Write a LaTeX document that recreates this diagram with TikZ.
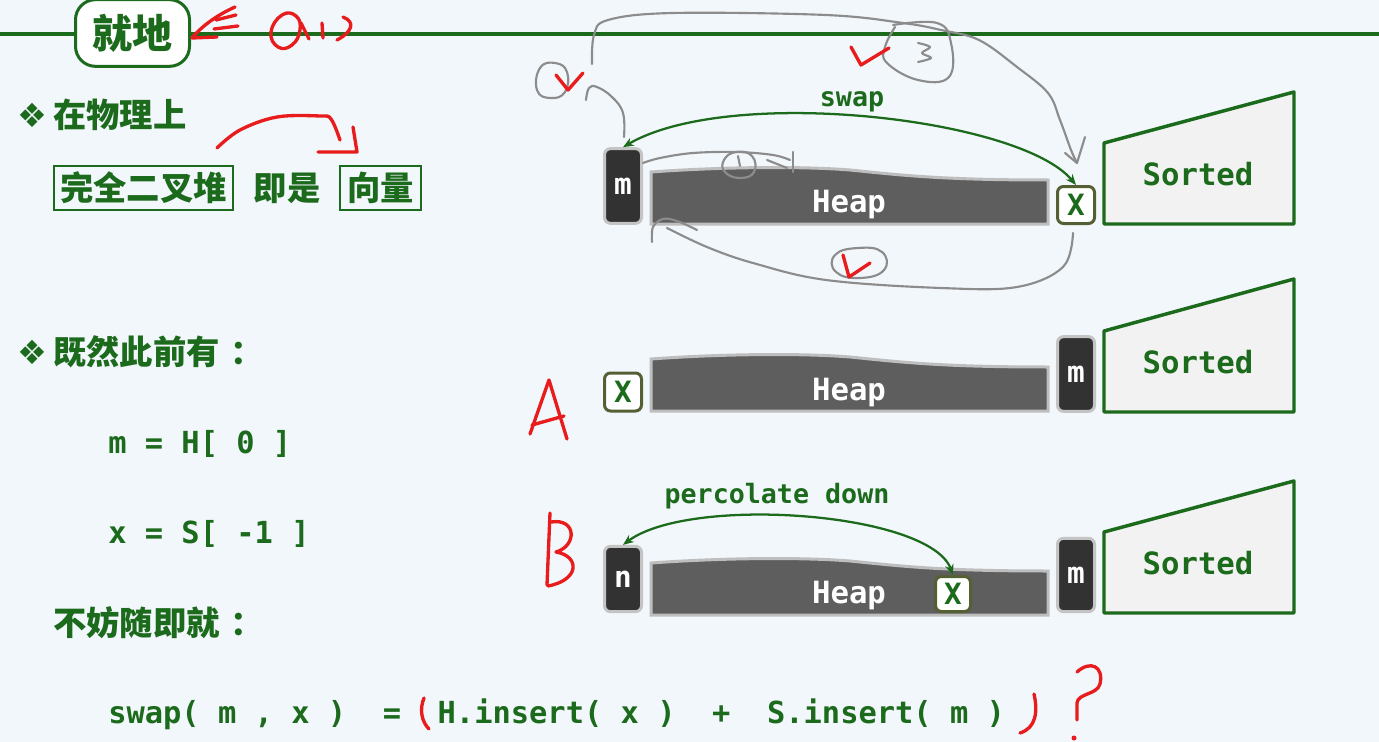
\documentclass[tikz,border=0pt]{standalone}
\usepackage{fontspec}
\setmonofont{DejaVu Sans Mono}
\newfontfamily\cjk{Noto Sans CJK SC}
\newfontfamily\dejavu{DejaVu Sans}
\usetikzlibrary{arrows.meta}

\definecolor{slidebg}{RGB}{242,247,251}
\definecolor{slidegreen}{RGB}{28,106,28}
\definecolor{celldark}{RGB}{50,50,50}
\definecolor{cellrim}{RGB}{196,196,196}
\definecolor{heapfill}{RGB}{94,94,94}
\definecolor{heaprim}{RGB}{190,190,190}
\definecolor{xrim}{RGB}{84,96,52}
\definecolor{sortfill}{RGB}{242,242,242}
\definecolor{inkred}{RGB}{232,28,28}
\definecolor{inkgray}{RGB}{140,140,140}

\tikzset{
  titlebox/.style={draw=slidegreen, fill=white, line width=2.25pt, rounded corners=15pt, inner sep=0pt, text=slidegreen, font=\cjk\bfseries\fontsize{30}{36}\selectfont},
  bullet/.style={text=slidegreen, inner sep=0pt, font=\dejavu\fontsize{25}{28}\selectfont},
  cjktext/.style={text=slidegreen, inner sep=0pt, font=\cjk\bfseries\fontsize{25}{30}\selectfont},
  cjkbox/.style={cjktext, draw=slidegreen, line width=1.6pt, minimum height=33pt},
  codeline/.style={text=slidegreen, inner sep=0pt, font=\ttfamily\bfseries\fontsize{22.8}{26}\selectfont},
  cell/.style={draw=cellrim, fill=celldark, line width=2.25pt, rounded corners=4.5pt, inner sep=0pt, minimum width=27.75pt, text=white, font=\ttfamily\bfseries\fontsize{22}{24}\selectfont},
  xcell/.style={cell, draw=xrim, fill=white, text=slidegreen},
  heapbody/.style={draw=heaprim, fill=heapfill, line width=2.25pt},
  heaplabel/.style={text=white, inner sep=0pt, font=\ttfamily\bfseries\fontsize{23}{26}\selectfont},
  sortedbody/.style={draw=slidegreen, fill=sortfill, line width=2.6pt, line join=round},
  sortedlabel/.style={text=slidegreen, inner sep=0pt, font=\ttfamily\bfseries\fontsize{23}{26}\selectfont},
  flow/.style={draw=slidegreen, line width=1.7pt, {Stealth[length=8pt,width=6.5pt]}-{Stealth[length=8pt,width=6.5pt]}},
  flowlabel/.style={text=slidegreen, inner sep=0pt, font=\ttfamily\bfseries\fontsize{20}{24}\selectfont},
  ink/.style={draw=inkred, line width=2.5pt, line cap=round, line join=round},
  pencil/.style={draw=inkgray, line width=1.6pt, line cap=round, line join=round}
}

\begin{document}
\begin{tikzpicture}[x=0.75pt,y=0.75pt,yscale=-1,xscale=1]
	\useasboundingbox (0,0) rectangle (1379,742);

	%Shape: Rectangle [background]
	\fill [slidebg] (0,0) rectangle (1379,742);
	%Straight Lines [title rule]
	\draw [slidegreen, line width=2.6pt] (0,34) -- (1379,34);

	% Text Node [title]
	\node [titlebox, minimum width=85.5pt, minimum height=50pt] (jiudi) at (132.5,33) {就地};

	% Text Node [left column]
	\node [bullet] (dot1) at (32,115) {❖};
	\node [cjktext, anchor=west] (phys) at (53,115) {在物理上};
	\node [cjkbox, minimum width=134pt] (cbt) at (143.5,188) {完全二叉堆};
	\node [cjktext] (isis) at (287,188) {即是};
	\node [cjkbox, minimum width=60.75pt] (vec) at (380.5,188) {向量};
	\node [bullet] (dot2) at (32,352) {❖};
	\node [cjktext, anchor=west] (since) at (53,352) {既然此前有\hspace{8pt}：};
	\node [codeline, anchor=base west] (mdef) at (108,453) {m = H[ 0 ]};
	\node [codeline, anchor=base west] (xdef) at (108,543) {x = S[ -1 ]};
	\node [cjktext, anchor=west] (thus) at (53,623) {不妨随即就\hspace{8pt}：};
	\node [codeline, anchor=base west] (swapeq) at (108,723) {swap( m , x )\ \ =\ \ H.insert( x )\ \ +\ \ S.insert( m )};

	%Shape: Heap [row 1]
	\draw [heapbody] (651,172) .. controls (720,167) and (800,166) .. (850,170) .. controls (900,175) and (940,180) .. (1048,180) -- (1048,224) -- (651,224) -- cycle;
	\node [heaplabel] (heap1) at (849,205) {Heap};
	\node [cell, minimum height=56pt] (m1) at (623,186) {m};
	\node [xcell, minimum height=27.75pt] (x1) at (1076,205) {X};
	\draw [sortedbody] (1104,143) -- (1294,92) -- (1294,224) -- (1104,224) -- cycle;
	\node [sortedlabel] (sorted1) at (1198,174) {Sorted};
	\draw [flow] (x1.north) .. controls (1020,118) and (730,85) .. (m1.north);
	\node [flowlabel, anchor=base] (swaptag) at (852,107) {swap};

	%Shape: Heap [row 2]
	\draw [heapbody] (651,359) .. controls (720,354) and (800,353) .. (850,357) .. controls (900,362) and (940,367) .. (1048,367) -- (1048,411) -- (651,411) -- cycle;
	\node [heaplabel] (heap2) at (849,393) {Heap};
	\node [xcell, minimum height=28.5pt] (x2) at (623,392) {X};
	\node [cell, minimum height=56pt] (m2) at (1076,374) {m};
	\draw [sortedbody] (1104,331) -- (1294,279) -- (1294,412) -- (1104,412) -- cycle;
	\node [sortedlabel] (sorted2) at (1198,362) {Sorted};

	%Shape: Heap [row 3]
	\draw [heapbody] (651,563) .. controls (720,558) and (800,557) .. (850,561) .. controls (900,566) and (940,571) .. (1048,571) -- (1048,615) -- (651,615) -- cycle;
	\node [heaplabel] (heap3) at (849,596) {Heap};
	\node [cell, minimum height=49pt] (n3) at (623,579) {n};
	\node [xcell, minimum height=26.25pt, minimum width=26.25pt] (x3) at (953,594) {X};
	\node [cell, minimum height=55pt] (m3) at (1076,575) {m};
	\draw [sortedbody] (1104,532) -- (1294,481) -- (1294,613) -- (1104,613) -- cycle;
	\node [sortedlabel] (sorted3) at (1198,563) {Sorted};
	\draw [flow] (x3.north) .. controls (930,512) and (690,495) .. (n3.north);
	\node [flowlabel, anchor=base] (perctag) at (777,503) {percolate down};

	%Curve Lines [pencil notes]
	\draw [pencil] plot [smooth, tension=0.6] coordinates {(592,64) (594,35) (608,20) (673,13) (826,15) (903,23) (941,30) (979,40) (1017,67) (1048,93) (1060,120) (1071,150) (1077,163)};
	\draw [pencil] (1065,153) -- (1077,163) -- (1085,137);
	\draw [pencil] plot [smooth, tension=0.7] coordinates {(624,137) (623,113) (612,97) (597,87) (589,88) (586,100)};
	\draw [pencil] plot [smooth cycle, tension=0.8] coordinates {(540,68) (555,63) (567,72) (565,92) (550,98) (537,90)};
	\draw [pencil] plot [smooth, tension=0.7] coordinates {(893,25) (937,23) (951,43) (949,77) (918,80) (887,63) (885,47) (895,27)};
	\draw [pencil] plot [smooth, tension=0.6] coordinates {(918,43) (930,47) (922,53) (931,58) (918,62)};
	\draw [pencil] plot [smooth, tension=0.6] coordinates {(643,163) (660,158) (693,153) (737,152) (773,155) (790,160)};
	\draw [pencil] (767,160) -- (787,168);
	\draw [pencil] (793,152) -- (793,172);
	\draw [pencil] plot [smooth cycle, tension=0.8] coordinates {(724,160) (736,152) (752,156) (754,172) (740,178) (725,172)};
	\draw [pencil] (738,156) -- (740,166);
	\draw [pencil] plot [smooth, tension=0.6] coordinates {(652,242) (653,227) (663,219) (677,221) (697,230)};
	\draw [pencil] plot [smooth, tension=0.6] coordinates {(667,228) (707,247) (753,263) (826,280) (941,288) (1017,287) (1063,267) (1073,233)};
	\draw [pencil] plot [smooth cycle, tension=0.8] coordinates {(835,255) (858,248) (882,252) (884,270) (860,278) (836,272)};

	%Curve Lines [red ink]
	\draw [ink] (235,7) .. controls (215,16) and (200,28) .. (192,38) -- (217,37);
	\draw [ink] (216,20) -- (236,15);
	\draw [ink] (214,29) -- (238,26);
	\draw [ink] plot [smooth cycle, tension=0.8] coordinates {(282,15) (296,16) (300,30) (292,45) (278,47) (271,32)};
	\draw [ink] (301,23) -- (309,39);
	\draw [ink] (322,23) -- (323,38);
	\draw [ink] (343,17) .. controls (356,22) and (352,32) .. (337,40);
	\draw [ink] plot [smooth, tension=0.6] coordinates {(217,148) (240,130) (277,117) (320,116) (331,119) (340,140)};
	\draw [ink] (318,152) -- (357,152) -- (353,127);
	\draw [ink] (556,75) -- (568,90) -- (583,73);
	\draw [ink] (851,47) -- (861,65) -- (889,48);
	\draw [ink] (843,255) -- (849,277) -- (870,263);
	\draw [ink] (530,434) -- (549,380) -- (567,439);
	\draw [ink] (532,425) -- (564,416);
	\draw [ink] (550,513) -- (547,585);
	\draw [ink] (551,522) .. controls (577,518) and (577,546) .. (556,552) .. controls (580,556) and (580,580) .. (548,586);
	\draw [ink] (424,698) .. controls (419,710) and (422,722) .. (429,729);
	\draw [ink] (1034,694) .. controls (1038,712) and (1036,728) .. (1020,733);
	\draw [ink] (1077,672) .. controls (1090,660) and (1104,666) .. (1100,684) .. controls (1097,695) and (1078,693) .. (1077,703) -- (1077,720);
	\fill [inkred] (1074,738) circle (2.5);

\end{tikzpicture}
\end{document}
